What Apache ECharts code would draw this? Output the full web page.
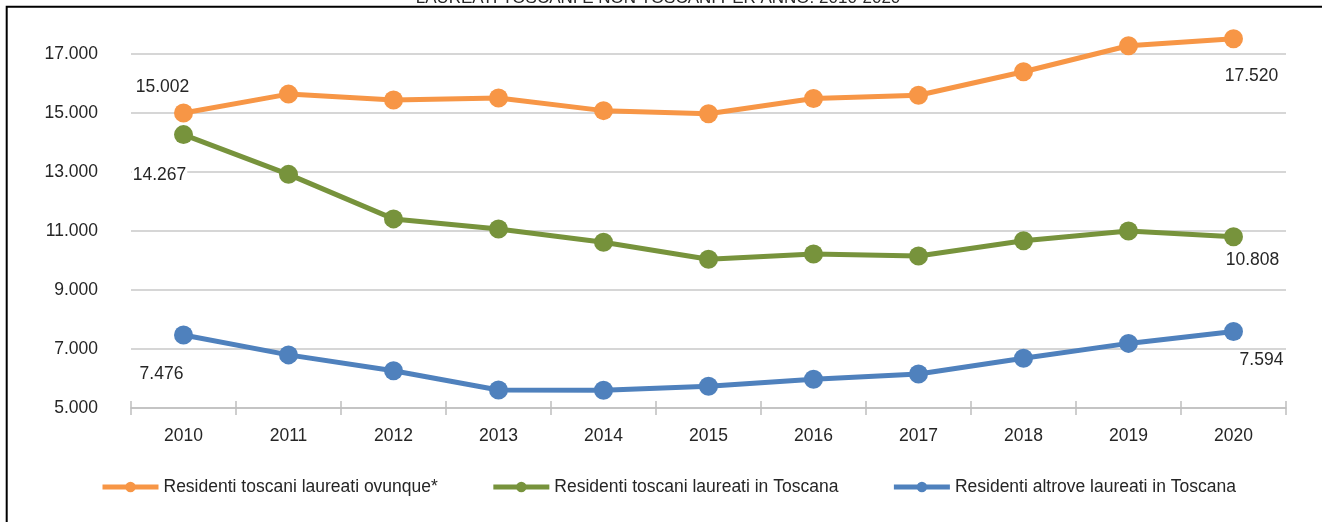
<!DOCTYPE html>
<html>
<head>
<meta charset="utf-8">
<script src="https://cdn.jsdelivr.net/npm/echarts@6/dist/echarts.min.js"></script>
<style>
  html, body { margin: 0; padding: 0; background: #fff; }
  #chart { width: 1322px; height: 522px; }
</style>
</head>
<body>
<div id="chart"></div>
<script>
var anni = ['2010', '2011', '2012', '2013', '2014', '2015', '2016', '2017', '2018', '2019', '2020'];
var nomiSerie = ['Residenti toscani laureati ovunque*', 'Residenti toscani laureati in Toscana', 'Residenti altrove laureati in Toscana'];
var ovunque = [15002, 15640, 15440, 15510, 15080, 14975, 15490, 15600, 16400, 17280, 17520];
var inToscana = [14267, 12920, 11410, 11070, 10620, 10045, 10220, 10155, 10670, 11000, 10808];
var altrove = [7476, 6800, 6265, 5610, 5600, 5735, 5975, 6150, 6685, 7190, 7594];
var assePassi = [5000, 7000, 9000, 11000, 13000, 15000, 17000];

var font = "'Liberation Sans', Arial, sans-serif";
var testo = '#262626';

function puntini(v) {
    return String(Math.round(v)).replace(/\B(?=(\d{3})+(?!\d))/g, '.');
}

// etichette solo sul primo e ultimo punto
function conEtichette(valori, offPrimo, offUltimo) {
    return valori.map(function (v, i) {
        if (i === 0 || i === valori.length - 1) {
            return {
                value: v,
                label: {
                    show: true,
                    position: 'inside',
                    offset: i === 0 ? offPrimo : offUltimo,
                    formatter: function (p) { return puntini(p.value); },
                    color: testo,
                    fontFamily: font,
                    fontSize: 17.5,
                    backgroundColor: '#fff',
                    padding: [0, 1]
                }
            };
        }
        return v;
    });
}

function serie(nome, colore, dati) {
    return {
        name: nome,
        type: 'line',
        data: dati,
        symbol: 'circle',
        symbolSize: 19,
        clip: false,
        color: colore,
        lineStyle: { width: 5, color: colore },
        itemStyle: { color: colore },
        emphasis: { disabled: true },
        animation: false
    };
}

var option = {
    backgroundColor: '#fff',
    animation: false,
    graphic: [
        {
            type: 'rect',
            shape: { x: 6.7, y: 6.7, width: 1400, height: 600 },
            style: { fill: 'none', stroke: '#000', lineWidth: 2 }
        },
        {
            type: 'text',
            x: 658,
            y: -2,
            style: {
                text: 'LAUREATI TOSCANI E NON TOSCANI PER ANNO. 2010-2020',
                font: '17px ' + font,
                fill: testo,
                align: 'center',
                verticalAlign: 'middle'
            }
        }
    ],
    grid: { left: 131, right: 36, top: 54, bottom: 114, containLabel: false },
    legend: {
        left: 100,
        top: 478,
        padding: 0,
        itemWidth: 56,
        itemHeight: 13,
        itemGap: 53,
        lineStyle: { width: 5 },
        textStyle: { color: testo, fontFamily: font, fontSize: 17.5 },
        data: nomiSerie
    },
    xAxis: [
        {
            type: 'category',
            data: anni,
            boundaryGap: true,
            axisLine: { lineStyle: { color: '#bfbfbf', width: 1.5 } },
            axisTick: { show: true, length: 7, lineStyle: { color: '#bfbfbf', width: 1.5 } },
            axisLabel: { color: testo, fontFamily: font, fontSize: 17.5, margin: 19 },
            splitLine: { show: false }
        },
        {
            // segni di graduazione che attraversano l'asse
            type: 'category',
            data: anni,
            position: 'top',
            offset: -354,
            boundaryGap: true,
            axisLine: { show: false },
            axisTick: { show: true, length: 7, lineStyle: { color: '#bfbfbf', width: 1.5 } },
            axisLabel: { show: false },
            splitLine: { show: false }
        }
    ],
    yAxis: {
        type: 'value',
        min: assePassi[0],
        max: assePassi[assePassi.length - 1],
        interval: 2000,
        axisLine: { show: false },
        axisTick: { show: false },
        axisLabel: {
            color: testo,
            fontFamily: font,
            fontSize: 17.5,
            margin: 33,
            formatter: function (v) { return puntini(v); }
        },
        splitLine: { lineStyle: { color: '#c8c8c8', width: 1.5 } }
    },
    series: [
        serie(nomiSerie[0], '#F79646', conEtichette(ovunque, [-21, -26], [18, 38])),
        serie(nomiSerie[1], '#77933C', conEtichette(inToscana, [-24, 41], [19, 24])),
        serie(nomiSerie[2], '#4F81BD', conEtichette(altrove, [-22, 39], [28, 29]))
    ]
};

var myChart = echarts.init(document.getElementById('chart'));
myChart.setOption(option);
</script>
</body>
</html>
